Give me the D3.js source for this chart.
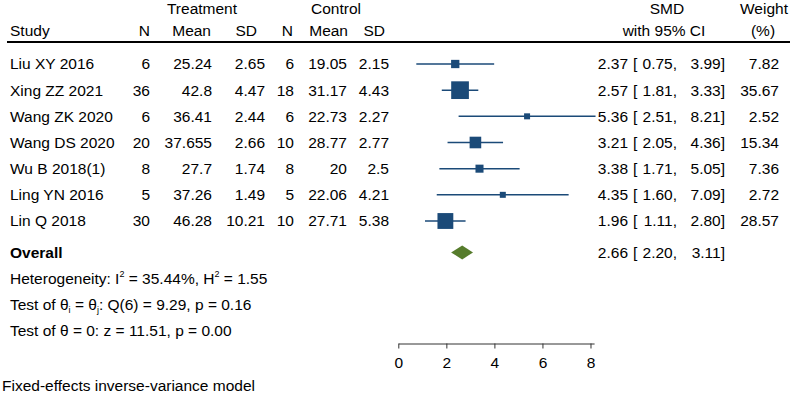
<!DOCTYPE html>
<html>
<head>
<meta charset="utf-8">
<script src="https://cdn.jsdelivr.net/npm/d3@7"></script>
<style>
  body { margin: 0; background: #fff; }
  svg { display: block; font-family: 'Liberation Sans', Arial, sans-serif; }
  text { fill: #000; font-size: 15.5px; }
</style>
</head>
<body>
<svg width="796" height="394"></svg>
<script>
// Study data
const studies = ['Liu XY 2016', 'Xing ZZ 2021', 'Wang ZK 2020', 'Wang DS 2020', 'Wu B 2018(1)', 'Ling YN 2016', 'Lin Q 2018'];
const tN = [6, 36, 6, 20, 8, 5, 30];
const tMean = [25.24, 42.8, 36.41, 37.655, 27.7, 37.26, 46.28];
const tSD = [2.65, 4.47, 2.44, 2.66, 1.74, 1.49, 10.21];
const cN = [6, 18, 6, 10, 8, 5, 10];
const cMean = [19.05, 31.17, 22.73, 28.77, 20, 22.06, 27.71];
const cSD = [2.15, 4.43, 2.27, 2.77, 2.5, 4.21, 5.38];
const smd = [2.37, 2.57, 5.36, 3.21, 3.38, 4.35, 1.96];
const lower = [0.75, 1.81, 2.51, 2.05, 1.71, 1.60, 1.11];
const upper = [3.99, 3.33, 8.21, 4.36, 5.05, 7.09, 2.80];
const weight = [7.82, 35.67, 2.52, 15.34, 7.36, 2.72, 28.57];
const overall = { est: 2.66, lo: 2.20, hi: 3.11 };
const ticks = [0, 2, 4, 6, 8];

const blue = '#1b4a78';
const green = '#567c2c';

const svg = d3.select('svg');

// row positions (index -> pixel)
const y = d3.scaleLinear().domain([0, 6]).range([64, 221]);
const x = d3.scaleLinear().domain([0, 8.15]).range([398.3, 594.1]);
const size = d3.scaleSqrt().domain([0, 35.67]).range([0, 17.7]);

// Header
const head = svg.append('g');
function htext(tx, ty, s, anchor) {
  head.append('text').attr('x', tx).attr('y', ty).attr('dy', '0.35em')
    .attr('text-anchor', anchor || 'middle').text(s);
}
htext(202, 9, 'Treatment');
htext(336, 9, 'Control');
htext(667, 9, 'SMD');
htext(764, 9, 'Weight');
htext(10, 31, 'Study', 'start');
htext(150, 31, 'N', 'end');
htext(211, 31, 'Mean', 'end');
htext(257, 31, 'SD', 'end');
htext(293, 31, 'N', 'end');
htext(348, 31, 'Mean', 'end');
htext(385, 31, 'SD', 'end');
htext(664, 31, 'with 95% CI');
htext(763, 31, '(%)');

svg.append('line')
  .attr('x1', 7).attr('x2', 790)
  .attr('y1', 42).attr('y2', 42)
  .attr('stroke', '#000').attr('stroke-width', 2);

// Table columns
const cols = [
  { x: 150, v: tN }, { x: 212, v: tMean }, { x: 265, v: tSD },
  { x: 294, v: cN }, { x: 347, v: cMean }, { x: 389, v: cSD }
];
const rows = svg.append('g');
studies.forEach((s, i) => {
  rows.append('text').attr('x', 10).attr('y', y(i)).attr('dy', '0.35em').text(s);
  cols.forEach((c) => {
    rows.append('text').attr('x', c.x).attr('y', y(i)).attr('dy', '0.35em')
      .attr('text-anchor', 'end').text(String(c.v[i]));
  });
});

// CI text
function ciText(g, ty, est, lo, hi) {
  g.append('text').attr('x', 628).attr('y', ty).attr('dy', '0.35em')
    .attr('text-anchor', 'end').text(est.toFixed(2));
  g.append('text').attr('x', 633).attr('y', ty).attr('dy', '0.35em').text('[');
  g.append('text').attr('x', 677).attr('y', ty).attr('dy', '0.35em')
    .attr('text-anchor', 'end').text(lo.toFixed(2) + ',');
  g.append('text').attr('x', 725).attr('y', ty).attr('dy', '0.35em')
    .attr('text-anchor', 'end').text(hi.toFixed(2) + ']');
}
studies.forEach((s, i) => {
  ciText(rows, y(i), smd[i], lower[i], upper[i]);
  rows.append('text').attr('x', 779).attr('y', y(i)).attr('dy', '0.35em')
    .attr('text-anchor', 'end').text(weight[i].toFixed(2));
});

// Plot marks
const plot = svg.append('g');
plot.selectAll('.ci')
  .data(studies)
  .enter()
  .append('line')
  .attr('class', 'ci')
  .attr('x1', (d, i) => x(lower[i]))
  .attr('x2', (d, i) => x(upper[i]))
  .attr('y1', (d, i) => y(i))
  .attr('y2', (d, i) => y(i))
  .attr('stroke', blue)
  .attr('stroke-width', 1.5);

plot.selectAll('.box')
  .data(studies)
  .enter()
  .append('rect')
  .attr('class', 'box')
  .attr('x', (d, i) => x(smd[i]) - Math.max(6, size(weight[i])) / 2)
  .attr('y', (d, i) => y(i) - Math.max(6, size(weight[i])) / 2)
  .attr('width', (d, i) => Math.max(6, size(weight[i])))
  .attr('height', (d, i) => Math.max(6, size(weight[i])))
  .attr('fill', blue);

// Overall
const yo = y(7.2);
svg.append('text').attr('x', 10).attr('y', yo).attr('dy', '0.35em')
  .attr('font-weight', 'bold').text('Overall');
plot.append('path')
  .attr('d', `M${x(overall.lo)},${yo} L${x(overall.est)},${yo - 7} L${x(overall.hi)},${yo} L${x(overall.est)},${yo + 7} Z`)
  .attr('fill', green);
ciText(svg, yo, overall.est, overall.lo, overall.hi);

// Statistics
const t1 = svg.append('text').attr('x', 10).attr('y', y(8.2) + 5.5);
t1.append('tspan').text('Heterogeneity: I');
t1.append('tspan').attr('dy', -7).attr('font-size', '9px').text('2');
t1.append('tspan').attr('dy', 7).text(' = 35.44%, H');
t1.append('tspan').attr('dy', -7).attr('font-size', '9px').text('2');
t1.append('tspan').attr('dy', 7).text(' = 1.55');

const t2 = svg.append('text').attr('x', 10).attr('y', y(9.2) + 5.5);
t2.append('tspan').text('Test of θ');
t2.append('tspan').attr('dy', 3).attr('font-size', '9px').text('i');
t2.append('tspan').attr('dy', -3).text(' = θ');
t2.append('tspan').attr('dy', 3).attr('font-size', '9px').text('j');
t2.append('tspan').attr('dy', -3).text(': Q(6) = 9.29, p = 0.16');

svg.append('text').attr('x', 10).attr('y', y(10.2)).attr('dy', '0.35em')
  .text('Test of θ = 0: z = 11.51, p = 0.00');

svg.append('text').attr('x', 2).attr('y', 386).attr('dy', '0.35em')
  .text('Fixed-effects inverse-variance model');

// Axis
const axis = svg.append('g')
  .attr('transform', 'translate(0,343.5)')
  .call(d3.axisBottom(x).tickValues(ticks).tickSize(5).tickSizeOuter(0).tickPadding(8));
axis.select('.domain').attr('stroke', '#333');
axis.selectAll('.tick line').attr('stroke', '#333');
axis.selectAll('.tick text').attr('font-size', '15.5px').attr('font-family', null).attr('fill', '#000');
</script>
</body>
</html>
